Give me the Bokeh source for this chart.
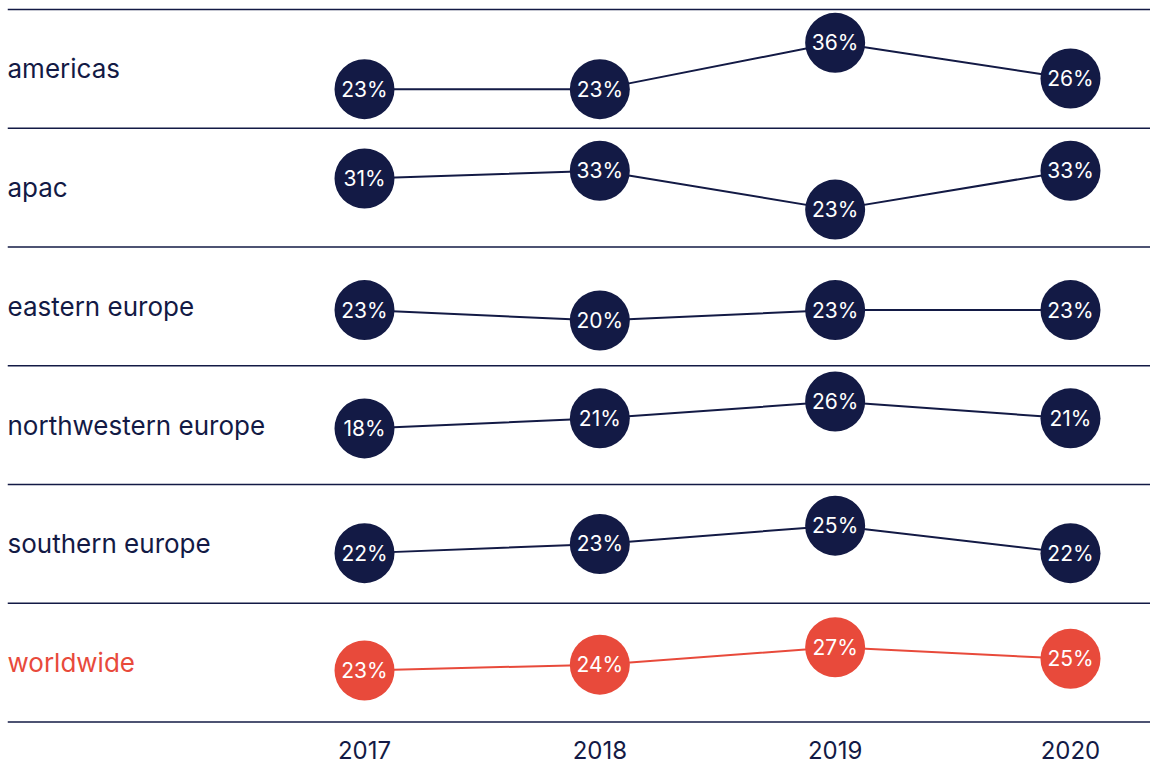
from bokeh.plotting import figure
from bokeh.models import Range1d, FixedTicker, Span
from bokeh.core.properties import value
from bokeh.embed import file_html
from bokeh.resources import INLINE

# ---- data ----
years = [2017, 2018, 2019, 2020]
regions = ["americas", "apac", "eastern europe", "northwestern europe",
           "southern europe", "worldwide"]
americas = [23, 23, 36, 26]
apac = [31, 33, 23, 33]
eastern_europe = [23, 20, 23, 23]
northwestern_europe = [18, 21, 26, 21]
southern_europe = [22, 23, 25, 22]
worldwide = [23, 24, 27, 25]
series = [americas, apac, eastern_europe, northwestern_europe,
          southern_europe, worldwide]

# per-row value scale (value at bottom / top separator of each band)
row_lo = [12.01, 13.4, 6.95, 1.27, 16.53, 14.1]
row_hi = [45.37, 43.9, 41.2, 36.69, 29.49, 34.6]

NAVY = "#131a45"
RED = "#e84a3b"
colors = [NAVY] * 5 + [RED]
FONT = "Inter"

W, H = 1150, 765
p = figure(width=W, height=H, output_backend="svg", toolbar_location=None,
           x_range=Range1d(2015.483, 2020.340),
           y_range=Range1d(-0.0211, 6.0758),
           y_axis_location=None,
           min_border_left=7, min_border_right=0, min_border_top=0,
           min_border_bottom=41)
p.grid.visible = False
p.outline_line_color = None

ax = p.xaxis[0]
ax.ticker = FixedTicker(ticks=years)
ax.major_label_overrides = {y: str(y) for y in years}
ax.axis_line_color = None
ax.major_tick_line_color = None
ax.minor_tick_line_color = None
ax.major_label_text_font = FONT
ax.major_label_text_font_size = "24px"
ax.major_label_text_color = NAVY
ax.major_label_standoff = 10

for k in range(7):
    p.add_layout(Span(location=k, dimension="width", line_color=NAVY,
                      line_width=1.5))

y0, y1 = p.y_range.start, p.y_range.end
extra = {}
for r in range(len(regions)):
    base = 5 - r
    lo, hi = row_lo[r], row_hi[r]
    extra[f"row{r}"] = Range1d(lo + (y0 - base) * (hi - lo),
                               lo + (y1 - base) * (hi - lo))
p.extra_y_ranges = extra

for r, (name, vals) in enumerate(zip(regions, series)):
    rn = f"row{r}"
    c = colors[r]
    p.line(years, vals, y_range_name=rn, line_color=c, line_width=2)
    p.scatter(years, vals, y_range_name=rn, size=60, fill_color=c,
              line_color=None)
    p.text(years, vals, text=[f"{v}%" for v in vals], y_range_name=rn,
           text_color="white", text_align="center", text_baseline="middle",
           text_font=value(FONT), text_font_size="21px")
    p.text([p.x_range.start], [5 - r + 0.5], text=[name],
           text_color=c, text_align="left", text_baseline="middle",
           text_font=value(FONT), text_font_size="26px")

open("out.html", "w").write(file_html(p, INLINE))
